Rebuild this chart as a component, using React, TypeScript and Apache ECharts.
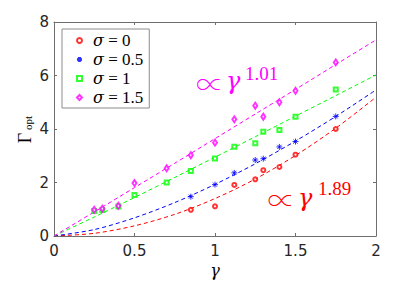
import React, { useEffect, useRef } from "react";
import * as echarts from "echarts";

// ---- data ----
const xTicks = [0, 0.5, 1, 1.5, 2];
const yTicks = [0, 2, 4, 6, 8];

const sigmaLabels = ["σ = 0", "σ = 0.5", "σ = 1", "σ = 1.5"];

const gammaSigma0 = [0.85, 1.0, 1.12, 1.25, 1.3, 1.4, 1.5, 1.75];
const optSigma0 = [0.98, 1.11, 1.91, 2.12, 2.46, 2.58, 3.04, 4.0];

const gammaSigma05 = [0.85, 1.0, 1.12, 1.25, 1.3, 1.4, 1.5, 1.75];
const optSigma05 = [1.47, 1.92, 2.36, 2.84, 2.89, 3.33, 3.53, 4.47];

const gammaSigma1 = [0.25, 0.3, 0.4, 0.5, 0.7, 0.85, 1.0, 1.12, 1.25, 1.3, 1.4, 1.5, 1.75];
const optSigma1 = [0.93, 0.97, 1.1, 1.53, 2.0, 2.43, 2.9, 3.34, 3.47, 3.9, 3.96, 4.46, 5.48];

const gammaSigma15 = [0.25, 0.3, 0.4, 0.5, 0.7, 0.85, 1.0, 1.12, 1.25, 1.3, 1.4, 1.5, 1.75];
const optSigma15 = [0.98, 1.02, 1.13, 1.98, 2.53, 3.02, 3.49, 4.36, 4.87, 4.46, 5.0, 5.43, 6.49];

const fitGamma = [0, 0.25, 0.5, 0.75, 1, 1.25, 1.5, 1.75, 2];
const fitSigma0 = [0, 0.1, 0.38, 0.81, 1.4, 2.13, 3.01, 4.03, 5.19];
const fitSigma05 = [0, 0.24, 0.68, 1.25, 1.93, 2.7, 3.55, 4.47, 5.46];
const fitSigma1 = [0, 0.71, 1.44, 2.19, 2.95, 3.71, 4.48, 5.25, 6.02];
const fitSigma15 = [0, 0.9, 1.81, 2.72, 3.64, 4.56, 5.48, 6.41, 7.33];

const exponentLow = "1.01";
const exponentHigh = "1.89";

// ---- styling ----
const RED = "#ff0000";
const BLUE = "#0000ff";
const GREEN = "#00ff00";
const MAGENTA = "#ff00ff";
const AXIS = "#6e6e6e";
const LABEL = "#262626";
const SERIF = "Liberation Serif";
const GREEK = "DejaVu Serif";
const SANS = "DejaVu Sans";
const PROP_FONT = "Noto Sans CJK JP";

const ASTERISK = "path://M5,0L5,10M0,5L10,5M1.5,1.5L8.5,8.5M1.5,8.5L8.5,1.5";

const zip = (xs: number[], ys: number[]) => xs.map((x, i) => [x, ys[i]]);

function scatter(name: string, xs: number[], ys: number[], color: string, symbol: string, size: any) {
  return {
    type: "scatter",
    name,
    data: zip(xs, ys),
    symbol,
    symbolSize: size,
    symbolKeepAspect: true,
    xAxisIndex: 0,
    yAxisIndex: 0,
    z: 3,
    itemStyle: { color, borderColor: color, borderWidth: 1 },
    emphasis: { disabled: true },
  };
}

function fit(xs: number[], ys: number[], color: string) {
  return {
    type: "line",
    data: zip(xs, ys),
    showSymbol: false,
    symbol: "none",
    smooth: 0.3,
    xAxisIndex: 0,
    yAxisIndex: 0,
    z: 2,
    lineStyle: { color, width: 1, type: [4, 3] },
    emphasis: { disabled: true },
  };
}

const xMin = xTicks[0];
const xMax = xTicks[xTicks.length - 1];
const xStep = xTicks[1] - xTicks[0];
const yMin = yTicks[0];
const yMax = yTicks[yTicks.length - 1];
const yStep = yTicks[1] - yTicks[0];

const axisCommon = {
  type: "value",
  splitLine: { show: false },
  axisLine: { show: true, onZero: false, lineStyle: { color: AXIS, width: 1 } },
  axisTick: { show: true, inside: true, length: 3, lineStyle: { color: AXIS } },
};

const option: any = {
  animation: false,
  backgroundColor: "#ffffff",
  grid: { left: 54, right: 40, top: 22, bottom: 47, containLabel: false },
  xAxis: [
    {
      ...axisCommon,
      position: "bottom",
      min: xMin,
      max: xMax,
      interval: xStep,
      axisLabel: { fontFamily: SANS, fontSize: 15, color: LABEL, margin: 7 },
    },
    {
      ...axisCommon,
      position: "top",
      min: xMin,
      max: xMax,
      interval: xStep,
      axisLabel: { show: false },
    },
  ],
  yAxis: [
    {
      ...axisCommon,
      position: "left",
      min: yMin,
      max: yMax,
      interval: yStep,
      axisLabel: { fontFamily: SANS, fontSize: 15, color: LABEL, margin: 5 },
    },
    {
      ...axisCommon,
      position: "right",
      min: yMin,
      max: yMax,
      interval: yStep,
      axisLabel: { show: false },
    },
  ],
  legend: {
    show: true,
    orient: "vertical",
    left: 62,
    top: 29,
    padding: [3, 6, 2, 14],
    itemWidth: 5,
    itemHeight: 5,
    itemGap: 2,
    borderColor: "#8c8c8c",
    borderWidth: 1,
    backgroundColor: "#ffffff",
    data: sigmaLabels,
    selectedMode: false,
    formatter: (name: string) => {
      const rest = name.replace("σ", "");
      return `{i|σ}{n|${rest}}`;
    },
    textStyle: {
      color: "#000",
      fontSize: 17,
      lineHeight: 17,
      fontFamily: SERIF,
      rich: {
        i: { fontFamily: GREEK, fontStyle: "italic", fontSize: 16, lineHeight: 17, color: "#000", padding: [0, 0, 0, 6] },
        n: { fontFamily: SERIF, fontSize: 17, lineHeight: 17, color: "#000" },
      },
    },
  },
  series: [
    fit(fitGamma, fitSigma0, RED),
    fit(fitGamma, fitSigma05, BLUE),
    fit(fitGamma, fitSigma1, GREEN),
    fit(fitGamma, fitSigma15, MAGENTA),
    scatter(sigmaLabels[0], gammaSigma0, optSigma0, RED, "emptyCircle", 4),
    scatter(sigmaLabels[1], gammaSigma05, optSigma05, BLUE, ASTERISK, 6),
    scatter(sigmaLabels[2], gammaSigma1, optSigma1, GREEN, "emptyRect", 4),
    scatter(sigmaLabels[3], gammaSigma15, optSigma15, MAGENTA, "emptyDiamond", [4, 6]),
  ],
  graphic: [
    // x axis name
    {
      type: "text",
      x: 215,
      y: 270,
      style: { text: "γ", fontFamily: GREEK, fontStyle: "italic", fontSize: 16, fill: "#000", align: "center", verticalAlign: "middle" },
    },
    // y axis name
    {
      type: "text",
      x: 24.5,
      y: 138,
      rotation: Math.PI / 2,
      style: { text: "Γ", fontFamily: SERIF, fontSize: 18, fill: "#000", align: "center", verticalAlign: "middle" },
    },
    {
      type: "text",
      x: 27.5,
      y: 123,
      rotation: Math.PI / 2,
      style: { text: "opt", fontFamily: SERIF, fontSize: 11, fill: "#000", align: "center", verticalAlign: "middle" },
    },
    // magenta annotation
    {
      type: "text",
      x: 210,
      y: 82.5,
      z: 10,
      style: { text: "∝", fontFamily: PROP_FONT, fontWeight: "lighter", fontSize: 28, fill: MAGENTA, align: "center", verticalAlign: "middle" },
    },
    {
      type: "text",
      x: 226,
      y: 81,
      z: 10,
      style: { text: "γ", fontFamily: GREEK, fontStyle: "italic", fontSize: 24, fill: MAGENTA, align: "left", verticalAlign: "middle" },
    },
    {
      type: "text",
      x: 245,
      y: 73.6,
      z: 10,
      style: { text: exponentLow, fontFamily: SERIF, fontSize: 19, fill: MAGENTA, align: "left", verticalAlign: "middle" },
    },
    // red annotation
    {
      type: "text",
      x: 281.5,
      y: 199,
      z: 10,
      style: { text: "∝", fontFamily: PROP_FONT, fontWeight: "lighter", fontSize: 28, fill: RED, align: "center", verticalAlign: "middle" },
    },
    {
      type: "text",
      x: 298,
      y: 197.5,
      z: 10,
      style: { text: "γ", fontFamily: GREEK, fontStyle: "italic", fontSize: 24, fill: RED, align: "left", verticalAlign: "middle" },
    },
    {
      type: "text",
      x: 318,
      y: 188.6,
      z: 10,
      style: { text: exponentHigh, fontFamily: SERIF, fontSize: 19, fill: RED, align: "left", verticalAlign: "middle" },
    },
  ],
};

export default function App() {
  const ref = useRef<HTMLDivElement>(null);
  useEffect(() => {
    document.body.style.margin = "0";
    const chart = echarts.init(ref.current!, null, { renderer: "svg" });
    chart.setOption(option);
    return () => chart.dispose();
  }, []);
  return <div ref={ref} style={{ width: 416, height: 283 }} />;
}
